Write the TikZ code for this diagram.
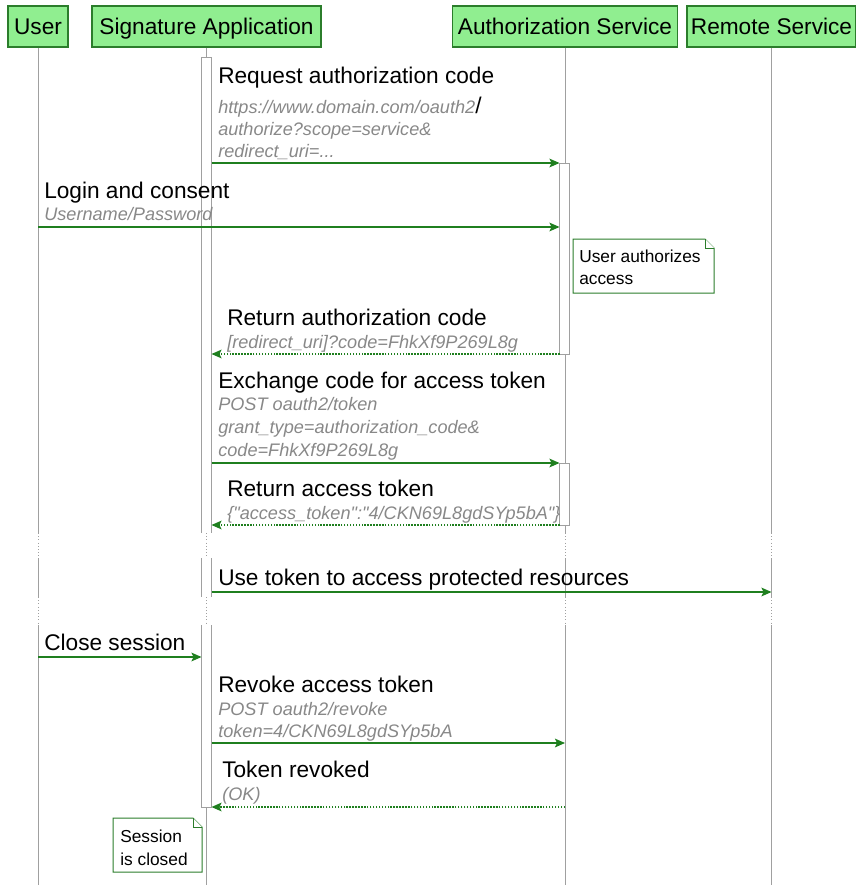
\documentclass[tikz,border=0pt]{standalone}
\usepackage{fontspec}
\setmainfont{Liberation Sans}[Ligatures = TeXOff]
\usetikzlibrary{arrows.meta, positioning}

\definecolor{actorfill}{HTML}{90EE90}
\definecolor{actorline}{HTML}{2B7D2B}
\definecolor{msgcol}{HTML}{1F7F1F}
\definecolor{lifecol}{HTML}{A0A0A0}
\definecolor{paramcol}{HTML}{888888}

\tikzstyle{actor} = [rectangle, draw = actorline, fill = actorfill,
  line width = 0.9pt, minimum height = 30.75pt, inner sep = 0,
  text height = 15.4pt, text depth = 3pt,
  font = \fontsize{17}{20}\selectfont]
\tikzstyle{life} = [draw = lifecol, line width = 0.6pt]
\tikzstyle{gap} = [life, dash pattern = on 0.6pt off 1.8pt]
\tikzstyle{bar} = [draw = lifecol, fill = white, line width = 0.75pt]
\tikzstyle{msg} = [draw = msgcol, line width = 1.1pt,
  -{Stealth[length = 7.5pt, width = 6.5pt, inset = 1.5pt]}]
\tikzstyle{reply} = [msg, dash pattern = on 1.1pt off 1.1pt]
\tikzstyle{msgtext} = [anchor = base west, inner sep = 0,
  font = \fontsize{17}{20}\selectfont]
\tikzstyle{param} = [anchor = base west, inner sep = 0, text = paramcol,
  font = \fontsize{13.6}{16.5}\selectfont\itshape]
\tikzstyle{notetext} = [anchor = base west, inner sep = 0,
  font = \fontsize{13}{16}\selectfont]
\tikzstyle{notebox} = [draw = actorline, line width = 0.75pt, fill = white]

\begin{document}
\begin{tikzpicture}[x = 0.75pt, y = -0.75pt]
      \useasboundingbox (0, 0) rectangle (856, 885);

      % participants
      \node [actor, minimum width = 45pt] (user) at (38, 26.5) {User};
      \node [actor, minimum width = 171.75pt] (sigapp) at (206.5, 26.5) {Signature Application};
      \node [actor, minimum width = 168.75pt] (authsrv) at (565, 26.5) {Authorization Service};
      \node [actor, minimum width = 126.75pt] (remote) at (771.5, 26.5) {Remote Service};

      % delays
      \coordinate (delay-1-a) at (0, 533);
      \coordinate (delay-1-b) at (0, 558);
      \coordinate (delay-2-a) at (0, 597);
      \coordinate (delay-2-b) at (0, 625);
      \coordinate (bottom) at (0, 885);

      % lifelines
      \foreach \p in {user, sigapp, authsrv, remote} {
        \draw [life] (\p.south) -- (\p.south |- delay-1-a);
        \draw [gap] (\p.south |- delay-1-a) -- (\p.south |- delay-1-b);
        \draw [life] (\p.south |- delay-1-b) -- (\p.south |- delay-2-a);
        \draw [gap] (\p.south |- delay-2-a) -- (\p.south |- delay-2-b);
        \draw [life] (\p.south |- delay-2-b) -- (\p.south |- bottom);
      }

      % activations
      \draw [bar] (201.5, 533) -- (201.5, 57) -- (211.5, 57) -- (211.5, 533);
      \fill [white] (201.5, 558) rectangle (211.5, 597);
      \draw [bar] (201.5, 558) -- (201.5, 597) (211.5, 558) -- (211.5, 597);
      \draw [bar] (201.5, 625) -- (201.5, 807) -- (211.5, 807) -- (211.5, 625);
      \draw [bar] (559.5, 163) rectangle (569.5, 354);
      \draw [bar] (559.5, 463) rectangle (569.5, 525);

      % 1 request code
      \node [msgtext] (m1-txt) at (218, 83) {Request authorization code};
      \node [param] (m1-p1) at (218, 113) {https://www.domain.com/oauth2{\upshape\color{black}\fontsize{17}{20}\selectfont/}};
      \node [param] (m1-p2) at (218, 135) {authorize?scope=service\&};
      \node [param] (m1-p3) at (218, 157) {redirect\_uri=...};
      \coordinate (m1-a) at (211.5, 163);
      \coordinate (m1-b) at (559.5, 163);
      \draw [msg] (m1-a) -- (m1-b);

      % 2 login
      \node [msgtext] (m2-txt) at (44, 198) {Login and consent};
      \node [param] (m2-p1) at (44, 220) {Username/Password};
      \coordinate (m2-a) at (38, 227);
      \coordinate (m2-b) at (559.5, 227);
      \draw [msg] (m2-a) -- (m2-b);

      % note auth
      \draw [notebox] (573, 239) -- (705, 239) -- (714, 248) -- (714, 293) -- (573, 293) -- cycle;
      \draw [notebox] (705, 239) -- (705, 248) -- (714, 248);
      \node [notetext] (n1-l1) at (579, 262) {User authorizes};
      \node [notetext] (n1-l2) at (579, 284) {access};

      % 3 code back
      \node [msgtext] (m3-txt) at (227, 325) {Return authorization code};
      \node [param] (m3-p1) at (227, 348) {[redirect\_uri]?code=FhkXf9P269L8g};
      \coordinate (m3-a) at (559.5, 354);
      \coordinate (m3-b) at (211.5, 354);
      \draw [reply] (m3-a) -- (m3-b);

      % 4 exchange
      \node [msgtext] (m4-txt) at (218, 388) {Exchange code for access token};
      \node [param] (m4-p1) at (218, 410) {POST oauth2/token};
      \node [param] (m4-p2) at (218, 433) {grant\_type=authorization\_code\&};
      \node [param] (m4-p3) at (218, 456) {code=FhkXf9P269L8g};
      \coordinate (m4-a) at (211.5, 463);
      \coordinate (m4-b) at (559.5, 463);
      \draw [msg] (m4-a) -- (m4-b);

      % 5 token back
      \node [msgtext] (m5-txt) at (227, 496) {Return access token};
      \node [param] (m5-p1) at (227, 519) {\{"access\_token":"4/CKN69L8gdSYp5bA"\}};
      \coordinate (m5-a) at (559.5, 525);
      \coordinate (m5-b) at (211.5, 525);
      \draw [reply] (m5-a) -- (m5-b);

      % 6 use token
      \node [msgtext] (m6-txt) at (218, 585) {Use token to access protected resources};
      \coordinate (m6-a) at (211.5, 592);
      \coordinate (m6-b) at (remote.south |- 0, 592);
      \draw [msg] (m6-a) -- (m6-b);

      % 7 close
      \node [msgtext] (m7-txt) at (44, 650) {Close session};
      \coordinate (m7-a) at (38, 657);
      \coordinate (m7-b) at (201.5, 657);
      \draw [msg] (m7-a) -- (m7-b);

      % 8 revoke
      \node [msgtext] (m8-txt) at (218, 692) {Revoke access token};
      \node [param] (m8-p1) at (218, 715) {POST oauth2/revoke};
      \node [param] (m8-p2) at (218, 737) {token=4/CKN69L8gdSYp5bA};
      \coordinate (m8-a) at (211.5, 743);
      \coordinate (m8-b) at (authsrv.south |- 0, 743);
      \draw [msg] (m8-a) -- (m8-b);

      % 9 revoked
      \node [msgtext] (m9-txt) at (222, 777) {Token revoked};
      \node [param] (m9-p1) at (222, 800) {(OK)};
      \coordinate (m9-a) at (authsrv.south |- 0, 807);
      \coordinate (m9-b) at (211.5, 807);
      \draw [reply] (m9-a) -- (m9-b);

      % note session
      \draw [notebox] (113, 818) -- (193, 818) -- (202, 827) -- (202, 872) -- (113, 872) -- cycle;
      \draw [notebox] (193, 818) -- (193, 827) -- (202, 827);
      \node [notetext] (n2-l1) at (120, 842) {Session};
      \node [notetext] (n2-l2) at (120, 865) {is closed};
    \end{tikzpicture}
\end{document}
